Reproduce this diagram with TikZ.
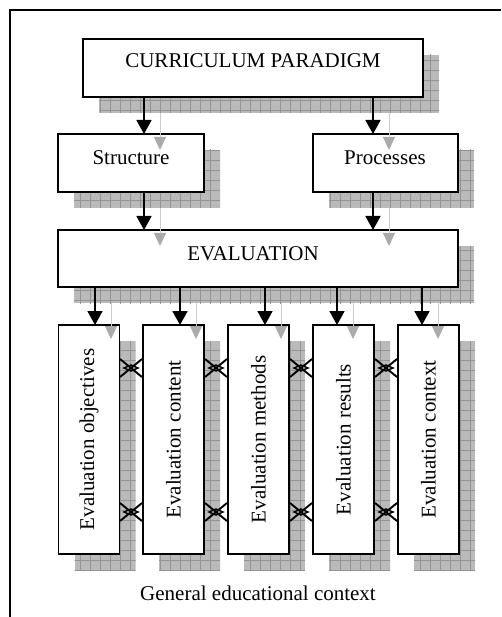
\documentclass[tikz,border=0pt]{standalone}
\usepackage{fontspec}
\setmainfont{Liberation Serif}
\usetikzlibrary{arrows.meta,backgrounds,calc}
\begin{document}
\begin{tikzpicture}[x=1pt,y=-1pt,
  box/.style={draw, line width=1.5pt, fill=white, inner sep=0pt, outer sep=0pt},
  vbox/.style={box, minimum width=61pt, minimum height=229pt},
  lbl/.style={font=\fontsize{21}{24}\selectfont, inner sep=0pt, anchor=base},
  vlbl/.style={font=\fontsize{21}{24}\selectfont, inner sep=0pt, rotate=90},
  blk/.style={line width=1.8pt, -{Triangle[length=14pt,width=15pt]}},
  gry/.style={draw=black!20, line width=0.9pt, -{Triangle[length=13pt,width=12pt,color=black!33,fill=black!33]}},
  shadowfill/.style={fill=black!27},
  xcross/.pic={\draw[line width=1.9pt] (-11,-9)--(11,9) (-11,9)--(11,-9);
               \draw[line width=1.4pt] (-7,0)--(0,-3)--(7,0)--(0,3)--cycle;}
]
\useasboundingbox (0,0) rectangle (501,617);
\draw[line width=1.5pt] (10,617) -- (10,10) -- (501,10);

% boxes
\node[box, minimum width=340pt, minimum height=58pt] (cp) at (253,68) {};
\node[box, minimum width=146pt, minimum height=58pt] (st) at (131,163) {};
\node[box, minimum width=145pt, minimum height=58pt] (pr) at (385.5,163) {};
\node[box, minimum width=400pt, minimum height=57pt] (ev) at (258,258.5) {};
\node[vbox] (b1) at (89,439.5) {};
\node[vbox] (b2) at (173.5,439.5) {};
\node[vbox] (b3) at (258.5,439.5) {};
\node[vbox] (b4) at (343.5,439.5) {};
\node[vbox] (b5) at (428.5,439.5) {};

% shadows
\begin{scope}[on background layer]
\foreach \n in {cp,st,pr,ev,b1,b2,b3,b4,b5}{
  \begin{scope}
    \clip ($(\n.north west)+(16,16)$) rectangle ($(\n.south east)+(16,16)$);
    \fill[shadowfill] ($(\n.north west)+(16,16)$) rectangle ($(\n.south east)+(16,16)$);
    \draw[black!42, line width=0.6pt, step=10pt] (0,0) grid (501,617);
  \end{scope}
}
\end{scope}

% labels
\node[lbl] (cpL) at (253,68) {CURRICULUM PARADIGM};
\node[lbl] (stL) at (131,165) {Structure};
\node[lbl] (prL) at (385,165) {Processes};
\node[lbl] (evL) at (253,260) {EVALUATION};
\node[vlbl] (b1L) at (b1.center) {Evaluation objectives};
\node[vlbl] (b2L) at (b2.center) {Evaluation content};
\node[vlbl] (b3L) at (b3.center) {Evaluation methods};
\node[vlbl] (b4L) at (b4.center) {Evaluation results};
\node[vlbl] (b5L) at (b5.center) {Evaluation context};
\node[lbl] (gen) at (258,600) {General educational context};

% black arrows
\draw[blk] (cp.south -| 144,0) -- (st.north -| 144,0);
\draw[blk] (cp.south -| 373,0) -- (pr.north -| 373,0);
\draw[blk] (st.south -| 144,0) -- (ev.north -| 144,0);
\draw[blk] (pr.south -| 373,0) -- (ev.north -| 373,0);
\draw[blk] (ev.south -| 95,0) -- (b1.north -| 95,0);
\draw[blk] (ev.south -| 180,0) -- (b2.north -| 180,0);
\draw[blk] (ev.south -| 265,0) -- (b3.north -| 265,0);
\draw[blk] (ev.south -| 337,0) -- (b4.north -| 337,0);
\draw[blk] (ev.south -| 422,0) -- (b5.north -| 422,0);

% gray shadow arrows
\draw[gry] ($(cp.south -| 160,0)+(0,16)$) -- ($(st.north -| 160,0)+(0,16)$);
\draw[gry] ($(cp.south -| 389,0)+(0,16)$) -- ($(pr.north -| 389,0)+(0,16)$);
\draw[gry] ($(st.south -| 160,0)+(0,16)$) -- ($(ev.north -| 160,0)+(0,16)$);
\draw[gry] ($(pr.south -| 389,0)+(0,16)$) -- ($(ev.north -| 389,0)+(0,16)$);
\draw[gry] ($(ev.south -| 111,0)+(0,16)$) -- ($(b1.north -| 111,0)+(0,14)$);
\draw[gry] ($(ev.south -| 196,0)+(0,16)$) -- ($(b2.north -| 196,0)+(0,14)$);
\draw[gry] ($(ev.south -| 281,0)+(0,16)$) -- ($(b3.north -| 281,0)+(0,14)$);
\draw[gry] ($(ev.south -| 353,0)+(0,16)$) -- ($(b4.north -| 353,0)+(0,14)$);
\draw[gry] ($(ev.south -| 438,0)+(0,16)$) -- ($(b5.north -| 438,0)+(0,14)$);

% crosses between boxes
\foreach \cx in {131,216,301,386}{
  \pic at (\cx,368) {xcross};
  \pic at (\cx,512) {xcross};
}
\end{tikzpicture}
\end{document}
